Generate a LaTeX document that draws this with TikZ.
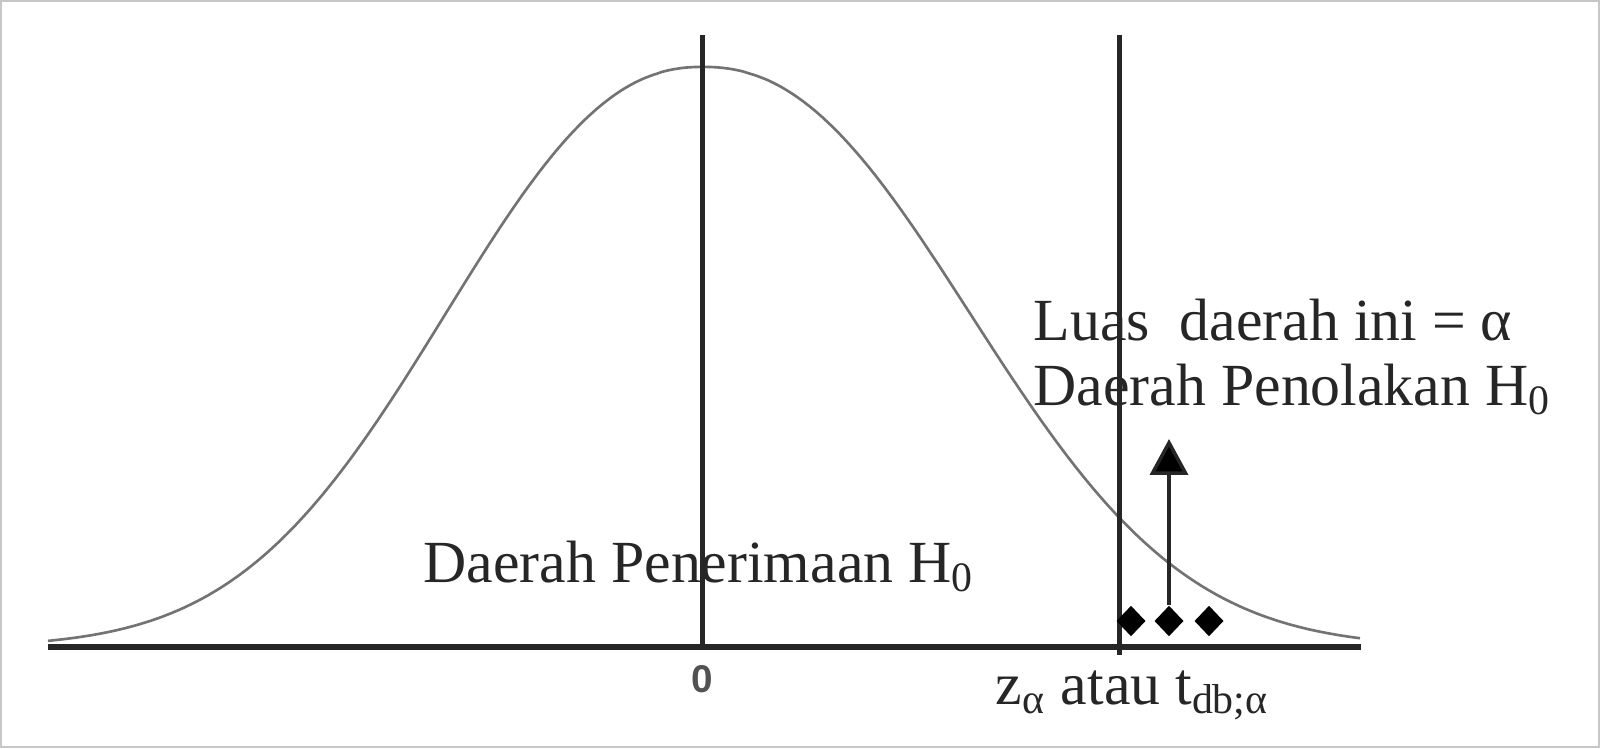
\documentclass[tikz,border=0pt]{standalone}
\usepackage{fontspec}
\setmainfont{Liberation Serif}
\newfontfamily\arialfont{Liberation Sans}
\usetikzlibrary{shapes.geometric,arrows.meta}
\begin{document}
\begin{tikzpicture}[x=0.01cm,y=-0.01cm,
  lbl/.style={inner sep=0pt, font=\fontsize{17}{20}\selectfont, text=black!85},
  dmd/.style={diamond, fill=black, inner sep=0pt, minimum width=8.4pt, minimum height=8.8pt},
  vline/.style={line width=1.2pt, black!85},
  axisline/.style={line width=1.7pt, black!85},
  curve/.style={line width=0.75pt, black!55}]
\useasboundingbox (0,0) rectangle (1600,748);
\draw[black!22, line width=0.6pt] (1,1) rectangle (1599,747);
% curve (left and right halves)
\draw[curve] plot[domain=48:702.5, samples=160, smooth]
  (\x, {647-580*exp(-((abs(\x-702.5)+0.01)/334)^2.25)})
  -- plot[domain=702.5:1360, samples=160, smooth]
  (\x, {647-580*exp(-((abs(\x-702.5)+0.01)/348)^2.25)});
% axis and verticals
\coordinate (axL) at (48,647);
\coordinate (axR) at (1361,647);
\draw[axisline] (axL) -- (axR);
\coordinate (c0top) at (702.5,35);
\coordinate (c0bot) at (702.5,647);
\draw[vline] (c0top) -- (c0bot);
\coordinate (ztop) at (1119.5,35);
\coordinate (zbot) at (1119.5,655);
\draw[vline] (ztop) -- (zbot);
% diamonds
\node[dmd] (d1) at (1131,621) {};
\node[dmd] (d2) at (1169,621) {};
\node[dmd] (d3) at (1209,621) {};
\coordinate (atip) at (1169,439);
\draw[line width=1pt, black!85, -{Triangle[length=10.2pt, width=10.8pt, fill=black]}] (d2.north) -- (atip);
% labels
\node[lbl, anchor=base west] (luas) at (1033,340) {Luas\ \ daerah ini = α};
\node[lbl, anchor=base west] (tolak) at (1033,405) {Daerah Penolakan H\textsubscript{0}};
\node[lbl, anchor=base west] (terima) at (423,582) {Daerah Penerimaan H\textsubscript{0}};
\node[inner sep=0pt, font=\arialfont\fontsize{11}{13}\selectfont\bfseries, text=black!68] (zero) at (702.5,679) {0};
\node[lbl, anchor=base west] (zlab) at (995,704) {z\textsubscript{α} atau t\textsubscript{db;α}};
\end{tikzpicture}
\end{document}
